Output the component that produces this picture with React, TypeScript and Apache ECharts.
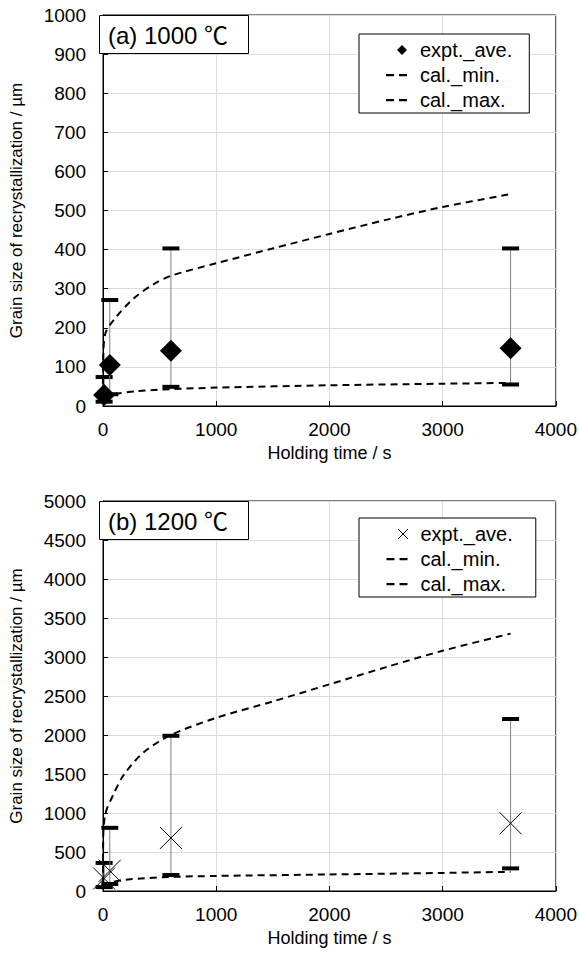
import React, { useEffect, useRef } from "react";
import * as echarts from "echarts";

// ---- (a) 1000 ℃ ----
const timeA = [10, 60, 600, 3600];
const aveA = [28, 105, 141, 148];
const minA = [11, 30, 49, 55];
const maxA = [74, 271, 403, 403];
const calMinTimeA = [0, 60, 300, 600, 1000, 2000, 3000, 3600];
const calMinA = [25, 29, 38, 43, 47, 53, 57, 59];
const calMaxTimeA = [0, 2, 20, 100, 270, 450, 600, 1000, 1500, 2000, 2500, 3000, 3600];
const calMaxA = [25, 110, 185, 222, 275, 312, 333, 365, 403, 440, 476, 509, 542];

// ---- (b) 1200 ℃ ----
const timeB = [10, 60, 600, 3600];
const aveB = [160, 260, 680, 868];
const minB = [50, 90, 205, 290];
const maxB = [360, 810, 1990, 2205];
const calMinTimeB = [0, 60, 200, 600, 1000, 2000, 3000, 3600];
const calMinB = [60, 105, 145, 180, 193, 212, 232, 246];
const calMaxTimeB = [0, 2, 23, 96, 184, 360, 600, 1000, 1500, 2000, 2500, 3000, 3600];
const calMaxB = [80, 700, 1000, 1250, 1490, 1780, 2000, 2220, 2430, 2650, 2870, 3080, 3300];

const xTicks = [0, 1000, 2000, 3000, 4000];

const FONT = '"Liberation Sans", Arial, "Noto Sans CJK JP", sans-serif';

// legend glyphs: invisible corner moves keep the 22x14 box so the glyph keeps its place and size
const DIAMOND_ICON = "path://M0,0M22,14M16,2L21,7L16,12L11,7Z";
const CROSS_ICON = "path://M0,0M22,14M11.5,2L21.5,12M21.5,2L11.5,12";
const DASH_ICON = "path://M0,0M22,14M0,6H8V8.2H0ZM13,6H21V8.2H13Z";
const CROSS_SYMBOL = "path://M0,0L10,10M10,0L0,10";

type Cfg = {
  title: string;
  time: number[];
  ave: number[];
  min: number[];
  max: number[];
  calMinTime: number[];
  calMin: number[];
  calMaxTime: number[];
  calMax: number[];
  yMax: number;
  yStep: number;
  gridTop: number;
  gridHeight: number;
  legendTop: number;
  legendPad: number[];
  cross: boolean;
};

function buildOption(c: Cfg): echarts.EChartsOption {
  const errData = c.time.map((t, i) => [t, c.min[i], c.max[i]]);
  const pts = c.time.map((t, i) => [t, c.ave[i]]);
  const lineMin = c.calMinTime.map((t, i) => [t, c.calMin[i]]);
  const lineMax = c.calMaxTime.map((t, i) => [t, c.calMax[i]]);
  const dash = [7, 5];
  const plain = (v: number) => String(v);
  return {
    animation: false,
    backgroundColor: "#fff",
    textStyle: { fontFamily: FONT, color: "#000" },
    title: {
      text: c.title,
      left: 99,
      top: c.gridTop,
      padding: [8, 21, 7, 9],
      borderWidth: 1,
      borderColor: "#000",
      backgroundColor: "#fff",
      textStyle: { fontSize: 24, fontWeight: "normal", color: "#000", fontFamily: FONT },
    },
    legend: {
      left: 359,
      top: c.legendTop,
      orient: "vertical",
      align: "left",
      data: [
        {
          name: "expt._ave.",
          icon: c.cross ? CROSS_ICON : DIAMOND_ICON,
          itemStyle: c.cross
            ? { color: "transparent", borderColor: "#000", borderWidth: 1 }
            : { color: "#000", opacity: 1 },
        },
        { name: "cal._min.", icon: DASH_ICON, itemStyle: { color: "#000" } },
        { name: "cal._max.", icon: DASH_ICON, itemStyle: { color: "#000" } },
      ],
      itemWidth: 22,
      itemHeight: 14,
      itemGap: 5,
      padding: c.legendPad,
      borderColor: "#000",
      borderWidth: 1,
      backgroundColor: "#fff",
      textStyle: { fontSize: 20, color: "#000", fontFamily: FONT, padding: [0, 0, 0, 7] },
    },
    grid: {
      left: 99,
      top: c.gridTop,
      width: 457,
      height: c.gridHeight,
      show: true,
      borderColor: "#000",
      borderWidth: 1,
      backgroundColor: "transparent",
    },
    xAxis: {
      type: "value",
      min: xTicks[0],
      max: xTicks[xTicks.length - 1],
      interval: 1000,
      name: "Holding time / s",
      nameLocation: "middle",
      nameGap: 37,
      nameTextStyle: { fontSize: 18, color: "#000", fontFamily: FONT },
      axisLine: { show: true, lineStyle: { color: "#000", width: 1 } },
      axisTick: { show: true, inside: true, length: 5, lineStyle: { color: "#000" } },
      axisLabel: { fontSize: 19, color: "#000", margin: 14, fontFamily: FONT, formatter: plain },
      splitLine: { show: true, lineStyle: { color: "#dcdcdc", width: 1 } },
    },
    yAxis: {
      type: "value",
      min: 0,
      max: c.yMax,
      interval: c.yStep,
      name: "Grain size of recrystallization / µm",
      nameLocation: "middle",
      nameGap: 78,
      nameTextStyle: { fontSize: 17, color: "#000", fontFamily: FONT },
      axisLine: { show: true, lineStyle: { color: "#000", width: 1 } },
      axisTick: { show: true, inside: true, length: 5, lineStyle: { color: "#000" } },
      axisLabel: { fontSize: 19, color: "#000", margin: 17, fontFamily: FONT, formatter: plain },
      splitLine: { show: true, lineStyle: { color: "#dcdcdc", width: 1 } },
    },
    series: [
      {
        type: "custom",
        name: "range",
        silent: true,
        z: 2,
        data: errData,
        encode: { x: 0, y: [1, 2] },
        renderItem: (_params: any, api: any) => {
          const x = api.value(0);
          const lo = api.coord([x, api.value(1)]);
          const hi = api.coord([x, api.value(2)]);
          const w = 17;
          const h = 4;
          return {
            type: "group",
            children: [
              {
                type: "line",
                shape: { x1: lo[0], y1: lo[1], x2: hi[0], y2: hi[1] },
                style: { stroke: "#7f7f7f", lineWidth: 1 },
              },
              {
                type: "rect",
                shape: { x: lo[0] - w / 2, y: lo[1] - h / 2, width: w, height: h },
                style: { fill: "#000" },
              },
              {
                type: "rect",
                shape: { x: hi[0] - w / 2, y: hi[1] - h / 2, width: w, height: h },
                style: { fill: "#000" },
              },
            ],
          };
        },
      },
      {
        type: "line",
        name: "cal._min.",
        data: lineMin,
        symbol: "none",
        smooth: 0.3,
        z: 3,
        lineStyle: { color: "#000", width: 2, type: dash },
        itemStyle: { color: "#000" },
      },
      {
        type: "line",
        name: "cal._max.",
        data: lineMax,
        symbol: "none",
        smooth: 0.3,
        z: 3,
        lineStyle: { color: "#000", width: 2, type: dash },
        itemStyle: { color: "#000" },
      },
      c.cross
        ? {
            type: "scatter",
            name: "expt._ave.",
            data: pts,
            symbol: CROSS_SYMBOL,
            symbolSize: 22,
            z: 4,
            itemStyle: { color: "transparent", borderColor: "#000", borderWidth: 1, opacity: 1 },
          }
        : {
            type: "scatter",
            name: "expt._ave.",
            data: pts,
            symbol: "diamond",
            symbolSize: 22,
            z: 4,
            itemStyle: { color: "#000", opacity: 1 },
          },
    ],
  };
}

const cfgA: Cfg = {
  title: "(a) 1000 ℃",
  time: timeA,
  ave: aveA,
  min: minA,
  max: maxA,
  calMinTime: calMinTimeA,
  calMin: calMinA,
  calMaxTime: calMaxTimeA,
  calMax: calMaxA,
  yMax: 1000,
  yStep: 100,
  gridTop: 15,
  gridHeight: 391,
  legendTop: 34,
  legendPad: [6, 17, 3, 27],
  cross: false,
};

const cfgB: Cfg = {
  title: "(b) 1200 ℃",
  time: timeB,
  ave: aveB,
  min: minB,
  max: maxB,
  calMinTime: calMinTimeB,
  calMin: calMinB,
  calMaxTime: calMaxTimeB,
  calMax: calMaxB,
  yMax: 5000,
  yStep: 500,
  gridTop: 23,
  gridHeight: 390,
  legendTop: 40,
  legendPad: [6, 23, 3, 27],
  cross: true,
};

function Panel({ cfg }: { cfg: Cfg }) {
  const ref = useRef<HTMLDivElement>(null);
  useEffect(() => {
    if (!ref.current) return;
    const chart = echarts.init(ref.current, undefined, { renderer: "svg" });
    chart.setOption(buildOption(cfg));
    return () => chart.dispose();
  }, [cfg]);
  return <div ref={ref} style={{ width: 580, height: 478 }} />;
}

export default function App() {
  return (
    <div
      style={{
        position: "absolute",
        left: 0,
        top: 0,
        width: 580,
        height: 956,
        background: "#fff",
      }}
    >
      <Panel cfg={cfgA} />
      <Panel cfg={cfgB} />
    </div>
  );
}
